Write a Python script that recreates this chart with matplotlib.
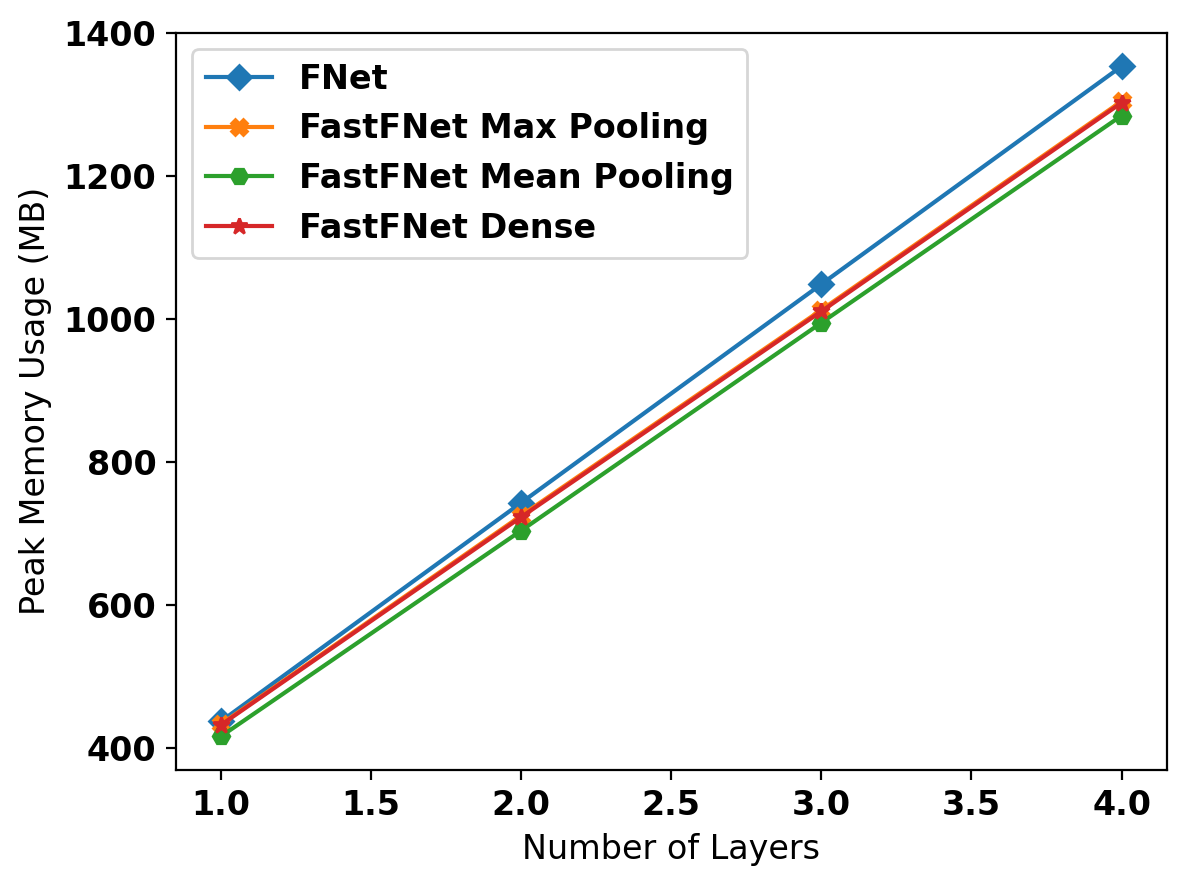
import matplotlib
matplotlib.use("Agg")
import matplotlib.pyplot as plt

layers = [1.0, 2.0, 3.0, 4.0]
fnet = [437, 743, 1049, 1354]
max_pool = [433, 725, 1013, 1305]
mean_pool = [416, 704, 995, 1285]
dense = [432, 723, 1011, 1303]

fig, ax = plt.subplots(figsize=(5.94, 4.43), dpi=200)
ax.plot(layers, fnet, marker='D', label='FNet')
ax.plot(layers, max_pool, marker='X', label='FastFNet Max Pooling')
ax.plot(layers, mean_pool, marker='H', label='FastFNet Mean Pooling')
ax.plot(layers, dense, marker='*', label='FastFNet Dense')

ax.set_xlabel('Number of Layers', fontsize=12)
ax.set_ylabel('Peak Memory Usage (MB)', fontsize=12)
for lab in ax.get_xticklabels() + ax.get_yticklabels():
    lab.set_fontweight('bold')
    lab.set_fontsize(12)
ax.legend(loc='upper left', prop={'weight': 'bold', 'size': 12})
fig.subplots_adjust(left=0.148, right=0.982, top=0.963, bottom=0.131)
fig.savefig('out.png', dpi=200)
